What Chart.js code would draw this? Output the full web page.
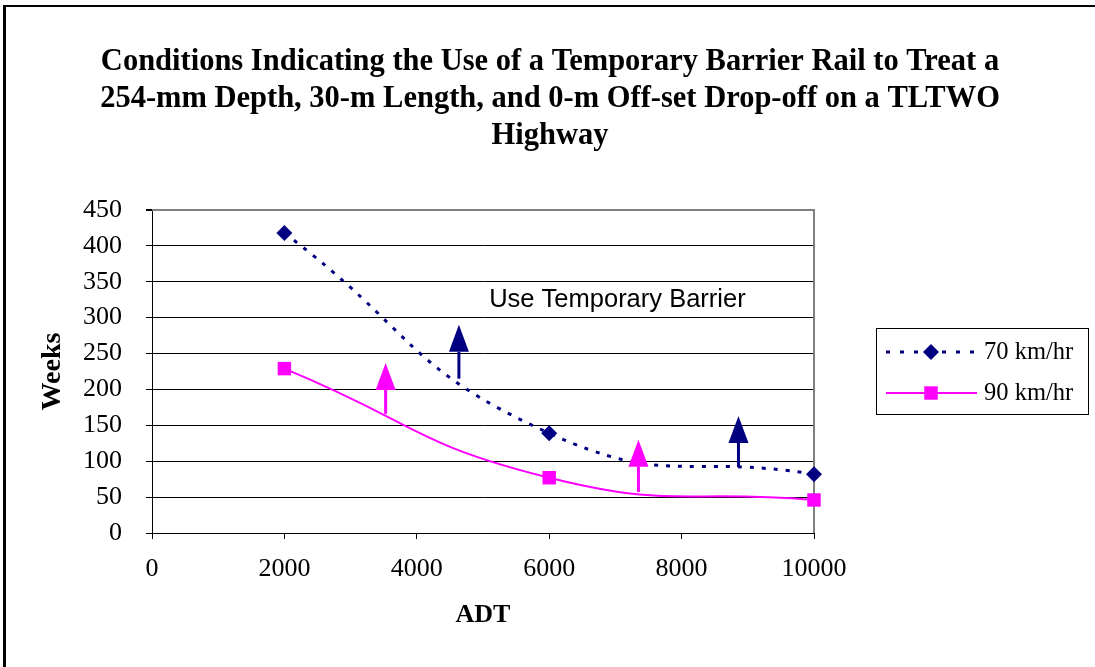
<!DOCTYPE html>
<html>
<head>
<meta charset="utf-8">
<script src="https://cdn.jsdelivr.net/npm/chart.js@4"></script>
<style>
  html, body { margin: 0; padding: 0; background: #fff; }
  #wrap { position: relative; width: 1095px; height: 667px; overflow: hidden; }
  #frame { position: absolute; left: 3px; top: 5px; width: 1092px; height: 662px;
           border-left: 3px solid #000; border-top: 2px solid #000; box-sizing: border-box; pointer-events: none; }
  canvas { position: absolute; left: 0; top: 0; }
</style>
</head>
<body>
<div id="wrap">
  <canvas id="c" width="1095" height="667"></canvas>
  <div id="frame"></div>
</div>
<script>
// ---- data ----
const titleLines = [
  "Conditions Indicating the Use of a Temporary Barrier Rail to Treat a",
  "254-mm Depth, 30-m Length, and 0-m Off-set Drop-off on a TLTWO",
  "Highway"
];
const adt = [2000, 6000, 10000];
const weeks70 = [418, 139, 82];
const weeks90 = [229, 77, 46];
const seriesNames = ["70 km/hr", "90 km/hr"];
const xTicks = [0, 2000, 4000, 6000, 8000, 10000];
const yTicks = [0, 50, 100, 150, 200, 250, 300, 350, 400, 450];
// arrows (data coordinates): x, tail value, tip value
const arrows70X = [4636, 8859];
const arrows70Tail = [215, 92];
const arrows70Tip = [290, 163];
const arrows90X = [3529, 7348];
const arrows90Tail = [166, 57];
const arrows90Tip = [237, 130];
const noteText = "Use Temporary Barrier";
const noteX = [7000];
const noteY = [325];

const NAVY = "#000080";
const MAGENTA = "#FF00FF";
const SERIF = '"Liberation Serif", "Times New Roman", serif';
const SANS = '"Liberation Sans", Arial, sans-serif';

const titlePlugin = {
  id: "titleText",
  afterDraw(chart) {
    const ctx = chart.ctx;
    ctx.save();
    ctx.fillStyle = "#000";
    ctx.font = "bold 30.5px " + SERIF;
    ctx.textAlign = "center";
    ctx.textBaseline = "alphabetic";
    const base = [70, 107, 144];
    titleLines.forEach((t, i) => ctx.fillText(t, 550, base[i]));
    ctx.restore();
  }
};

const framePlugin = {
  id: "plotFrame",
  beforeDatasetsDraw(chart) {
    const {ctx, chartArea: a} = chart;
    ctx.save();
    ctx.strokeStyle = "#808080";
    ctx.lineWidth = 2;
    ctx.beginPath();
    ctx.moveTo(a.left, a.top);
    ctx.lineTo(a.right, a.top);
    ctx.lineTo(a.right, a.bottom);
    ctx.stroke();
    ctx.restore();
  }
};

function drawArrow(ctx, x, yTail, yTip, color) {
  const headH = 27, headHalf = 10;
  ctx.save();
  ctx.strokeStyle = color;
  ctx.fillStyle = color;
  ctx.lineWidth = 3;
  ctx.beginPath();
  ctx.moveTo(x, yTail);
  ctx.lineTo(x, yTip + headH);
  ctx.stroke();
  ctx.beginPath();
  ctx.moveTo(x, yTip);
  ctx.lineTo(x - headHalf, yTip + headH);
  ctx.lineTo(x + headHalf, yTip + headH);
  ctx.closePath();
  ctx.fill();
  ctx.restore();
}

const annotPlugin = {
  id: "annot",
  afterDatasetsDraw(chart) {
    const {ctx, scales: {x, y}} = chart;
    arrows70X.forEach((v, i) => drawArrow(ctx, x.getPixelForValue(v), y.getPixelForValue(arrows70Tail[i]), y.getPixelForValue(arrows70Tip[i]), NAVY));
    arrows90X.forEach((v, i) => drawArrow(ctx, x.getPixelForValue(v), y.getPixelForValue(arrows90Tail[i]), y.getPixelForValue(arrows90Tip[i]), MAGENTA));
    ctx.save();
    ctx.fillStyle = "#000";
    ctx.font = "25.5px " + SANS;
    ctx.textAlign = "center";
    ctx.textBaseline = "middle";
    ctx.fillText(noteText, x.getPixelForValue(noteX[0]) + 2, y.getPixelForValue(noteY[0]));
    ctx.restore();
  }
};

const legendPlugin = {
  id: "customLegend",
  afterDraw(chart) {
    const ctx = chart.ctx;
    const bx = 876, by = 328, bw = 212, bh = 86;
    ctx.save();
    ctx.strokeStyle = "#000";
    ctx.lineWidth = 1;
    ctx.strokeRect(bx + 0.5, by + 0.5, bw, bh);
    const rows = [352, 393];
    chart.data.datasets.forEach((ds, i) => {
      const yy = rows[i];
      ctx.save();
      ctx.strokeStyle = ds.borderColor;
      ctx.lineWidth = ds.borderWidth;
      ctx.setLineDash(i === 0 ? [4, 10] : []);
      ctx.beginPath();
      ctx.moveTo(886, yy);
      ctx.lineTo(977, yy);
      ctx.stroke();
      ctx.restore();
      ctx.fillStyle = ds.pointBackgroundColor;
      ctx.beginPath();
      const r = ds.pointRadius;
      if (ds.pointStyle === "rectRot") {
        ctx.moveTo(931, yy - r); ctx.lineTo(931 + r, yy); ctx.lineTo(931, yy + r); ctx.lineTo(931 - r, yy);
      } else {
        const s = r * Math.SQRT1_2;
        ctx.rect(931 - s, yy - s, 2 * s, 2 * s);
      }
      ctx.closePath();
      ctx.fill();
      ctx.fillStyle = "#000";
      ctx.font = "24.5px " + SERIF;
      ctx.textAlign = "left";
      ctx.textBaseline = "middle";
      ctx.fillText(ds.label, 984, yy + 1);
    });
    ctx.restore();
  }
};

new Chart(document.getElementById("c"), {
  type: "scatter",
  data: {
    datasets: [
      {
        label: seriesNames[0],
        data: adt.map((v, i) => ({x: v, y: weeks70[i]})),
        showLine: true,
        clip: false,
        borderColor: NAVY,
        backgroundColor: NAVY,
        borderWidth: 3,
        borderDash: [4, 8],
        tension: 0.5,
        pointStyle: "rectRot",
        pointRadius: 8,
        pointBackgroundColor: NAVY,
        pointBorderColor: NAVY,
        pointBorderWidth: 0
      },
      {
        label: seriesNames[1],
        data: adt.map((v, i) => ({x: v, y: weeks90[i]})),
        showLine: true,
        clip: false,
        borderColor: MAGENTA,
        backgroundColor: MAGENTA,
        borderWidth: 2,
        tension: 0.5,
        pointStyle: "rect",
        pointRadius: 9.5,
        pointBackgroundColor: MAGENTA,
        pointBorderColor: MAGENTA,
        pointBorderWidth: 0
      }
    ]
  },
  options: {
    responsive: false,
    animation: false,
    layout: { padding: { left: 0, top: 210, right: 281, bottom: 0 } },
    plugins: {
      legend: { display: false },
      title: { display: false },
      tooltip: { enabled: false }
    },
    scales: {
      x: {
        type: "linear",
        min: 0, max: 10000,
        afterBuildTicks(s) { s.ticks = xTicks.map(v => ({value: v})); },
        afterFit(s) { s.height = 134; },
        grid: { drawOnChartArea: false, tickLength: 6, color: "#000", tickColor: "#000" },
        border: { color: "#000", width: 1 },
        ticks: { font: { family: SERIF, size: 26 }, color: "#000", padding: 15, maxRotation: 0, callback: (v) => String(v) },
        title: { display: true, text: "ADT", font: { family: SERIF, size: 26, weight: "bold" }, color: "#000", padding: { top: 0, bottom: 36 } }
      },
      y: {
        type: "linear",
        min: 0, max: 450,
        afterBuildTicks(s) { s.ticks = yTicks.map(v => ({value: v})); },
        afterFit(s) { s.width = 152; },
        grid: { tickLength: 6, color: (c) => (c.tick && c.tick.value === 450) ? "#808080" : "#000", lineWidth: (c) => (c.tick && c.tick.value === 450) ? 2 : 1, tickColor: "#000" },
        border: { color: "#000", width: 1 },
        ticks: { font: { family: SERIF, size: 26 }, color: "#000", padding: 24, callback: (v) => String(v) },
        title: { display: true, text: "Weeks", font: { family: SERIF, size: 28, weight: "bold" }, color: "#000", padding: { top: 36, bottom: 0 } }
      }
    }
  },
  plugins: [framePlugin, annotPlugin, titlePlugin, legendPlugin]
});
</script>
</body>
</html>
